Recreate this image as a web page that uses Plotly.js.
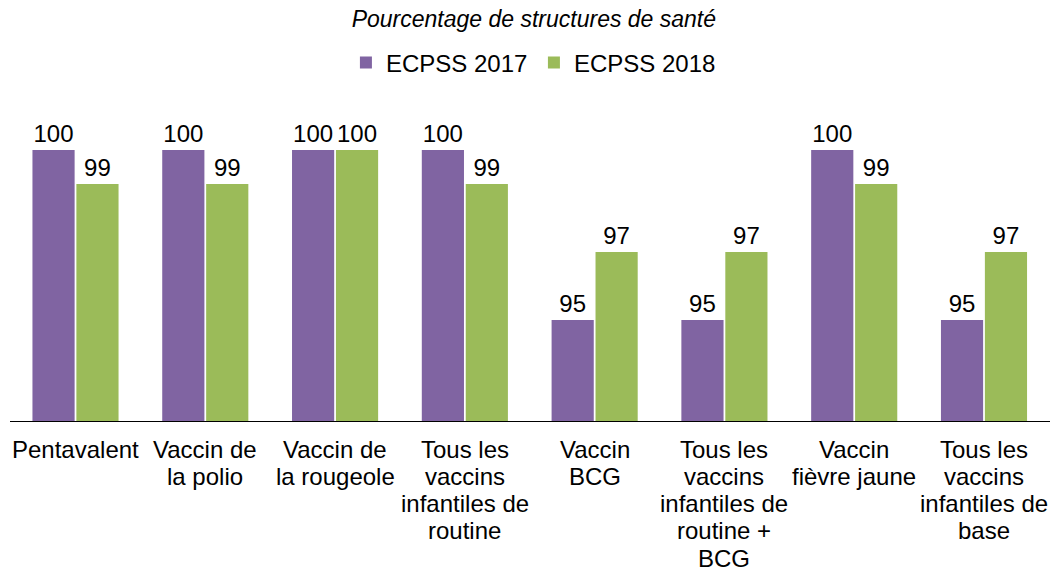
<!DOCTYPE html>
<html>
<head>
<meta charset="utf-8">
<script src="https://cdn.plot.ly/plotly-3.0.1.min.js"></script>
<style>html,body{margin:0;padding:0;background:#fff;}#chart{width:1053px;height:572px;}</style>
</head>
<body>
<div id="chart"></div>
<script>
const categories = [
  "Pentavalent",
  "Vaccin de<br>la polio",
  "Vaccin de<br>la rougeole",
  "Tous les<br>vaccins<br>infantiles de<br>routine",
  "Vaccin<br>BCG",
  "Tous les<br>vaccins<br>infantiles de<br>routine +<br>BCG",
  "Vaccin<br>fièvre jaune",
  "Tous les<br>vaccins<br>infantiles de<br>base"
];
const ecpss2017 = [100, 100, 100, 100, 95, 95, 100, 95];
const ecpss2018 = [99, 99, 100, 99, 97, 97, 99, 97];

const FONT = "Liberation Sans, Arial, sans-serif";
const FS = 24;
const LINE_H = 27.3;

const traces = [
  {type: "bar", name: "ECPSS 2017", x: categories, y: ecpss2017,
   marker: {color: "#8064A2"}, text: ecpss2017.map(String), textposition: "outside",
   textfont: {size: FS, color: "#000", family: FONT}, cliponaxis: false, hoverinfo: "skip"},
  {type: "bar", name: "ECPSS 2018", x: categories, y: ecpss2018,
   marker: {color: "#9BBB59"}, text: ecpss2018.map(String), textposition: "outside",
   textfont: {size: FS, color: "#000", family: FONT}, cliponaxis: false, hoverinfo: "skip"}
];

// category labels, one annotation per line to reproduce the tight line spacing
const annotations = [];
categories.forEach(function (cat) {
  cat.split("<br>").forEach(function (line, i) {
    annotations.push({
      x: cat, xref: "x", y: 0, yref: "paper",
      text: line, showarrow: false, xanchor: "center", yanchor: "middle",
      yshift: -(28 + i * LINE_H),
      font: {size: FS, family: FONT, color: "#000"}
    });
  });
});

const layout = {
  width: 1053, height: 572,
  margin: {l: 10, r: 3, t: 116, b: 151},
  paper_bgcolor: "#fff", plot_bgcolor: "#fff",
  font: {family: FONT, size: FS, color: "#000"},
  title: {text: "<i>Pourcentage de structures de santé</i>", x: 0.507, xanchor: "center", y: 0.967, yanchor: "middle",
          font: {size: 23, family: FONT, color: "#000"}},
  barmode: "group", bargap: 0.323, bargroupgap: 0.04,
  showlegend: true,
  legend: {orientation: "h", x: 0.323, xanchor: "left", y: 1.174, yanchor: "middle",
           font: {size: FS, family: FONT}, itemwidth: 30, traceorder: "normal",
           entrywidth: 143, entrywidthmode: "pixels"},
  xaxis: {showline: true, linecolor: "#000", linewidth: 1, ticks: "", showgrid: false,
          showticklabels: false, automargin: false, fixedrange: true},
  yaxis: {range: [92.03, 101], visible: false, showgrid: false, zeroline: false, fixedrange: true},
  annotations: annotations
};
Plotly.newPlot("chart", traces, layout, {displayModeBar: false, staticPlot: true});
</script>
</body>
</html>
